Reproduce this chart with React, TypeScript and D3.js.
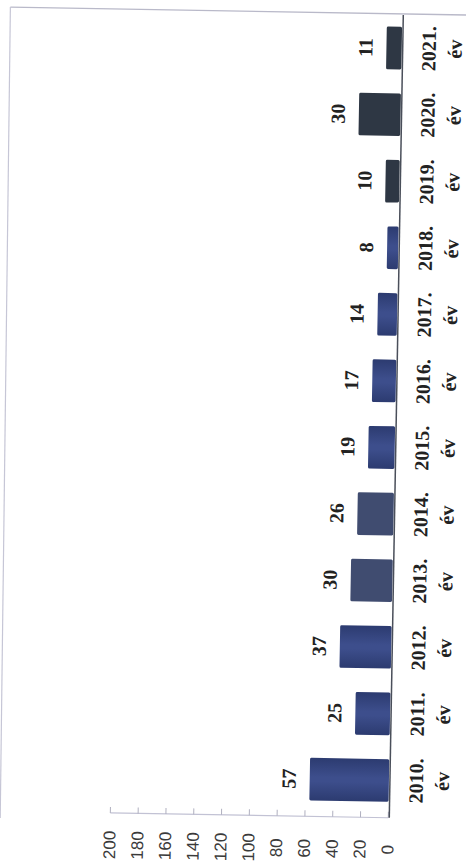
import React from "react";
import * as d3 from "d3";

const YEARS = ["2010.", "2011.", "2012.", "2013.", "2014.", "2015.", "2016.", "2017.", "2018.", "2019.", "2020.", "2021."];
const VALUES = [57, 25, 37, 30, 26, 19, 17, 14, 8, 10, 30, 11];
const UNIT = "év";
const VALUE_TICKS = [0, 20, 40, 60, 80, 100, 120, 140, 160, 180, 200];
const FLAT_GREY_YEARS = ["2013.", "2014."];
const DARK_YEARS = ["2019.", "2020.", "2021."];

const W = 466;
const H = 863;

export default function App() {
  const x = d3.scaleLinear().domain([0, 200]).range([395, 117]);
  const y = d3
    .scaleBand<string>()
    .domain([...YEARS].reverse())
    .range([4, 819])
    .paddingInner(0.36)
    .paddingOuter(0.3);

  const bw = y.bandwidth();
  const fillFor = (yr: string) =>
    DARK_YEARS.includes(yr) ? "#2e3744" : FLAT_GREY_YEARS.includes(yr) ? "#404c70" : "url(#blueGrad)";

  const serif = "'Liberation Serif', 'Times New Roman', serif";
  const sans = "'Liberation Sans', Arial, sans-serif";

  return (
    <svg
      width={W}
      height={H}
      viewBox={`0 0 ${W} ${H}`}
      style={{ position: "absolute", left: 0, top: 0, background: "#fff" }}
    >
      <defs>
        <linearGradient id="blueGrad" x1="0" y1="0" x2="0" y2="1">
          <stop offset="0" stopColor="#2c3b70" />
          <stop offset="0.45" stopColor="#3d4e8c" />
          <stop offset="0.55" stopColor="#3d4e8c" />
          <stop offset="1" stopColor="#2c3b70" />
        </linearGradient>
      </defs>
      <rect width={W} height={H} fill="#fff" />
      <g transform={`rotate(1, ${W / 2}, ${H / 2})`}>
        {/* outer frame */}
        <line x1={3} y1={11} x2={490} y2={11} stroke="#b9b9c9" strokeWidth={1.3} />
        <line x1={3} y1={11} x2={7} y2={822} stroke="#c6c6d6" strokeWidth={1.2} />

        {/* value axis */}
        <line x1={x(200)} y1={815} x2={x(0)} y2={815} stroke="#c2c2d4" strokeWidth={1.2} />
        {VALUE_TICKS.map((t) => (
          <line key={"tk" + t} x1={x(t)} x2={x(t)} y1={809} y2={815} stroke="#b0b0c0" strokeWidth={1} />
        ))}
        {VALUE_TICKS.map((t) => (
          <text
            key={"tl" + t}
            transform={`translate(${x(t)}, 847) rotate(-90)`}
            textAnchor="middle"
            dominantBaseline="central"
            fontFamily={sans}
            fontSize={17}
            fill="#3a3a3a"
          >
            {t}
          </text>
        ))}

        {/* bars */}
        {YEARS.map((yr, i) => (
          <rect
            key={"b" + yr}
            x={x(VALUES[i])}
            y={y(yr)!}
            width={x(0) - x(VALUES[i])}
            height={bw}
            rx={1.5}
            fill={fillFor(yr)}
          />
        ))}

        {/* category baseline */}
        <line x1={x(0) + 1} y1={12} x2={x(0) + 1} y2={815} stroke="#4a4f5a" strokeWidth={1.5} />

        {/* value labels */}
        {YEARS.map((yr, i) => (
          <text
            key={"v" + yr}
            transform={`translate(${x(VALUES[i]) - 14}, ${y(yr)! + bw / 2}) rotate(-90)`}
            textAnchor="middle"
            fontFamily={serif}
            fontWeight="bold"
            fontSize={20}
            fill="#222"
          >
            {VALUES[i]}
          </text>
        ))}

        {/* category labels */}
        {YEARS.map((yr) => (
          <g key={"c" + yr}>
            <text
              transform={`translate(429, ${y(yr)! + bw / 2}) rotate(-90)`}
              textAnchor="middle"
              fontFamily={serif}
              fontWeight="bold"
              fontSize={20}
              fill="#222"
            >
              {yr}
            </text>
            <text
              transform={`translate(455, ${y(yr)! + bw / 2}) rotate(-90)`}
              textAnchor="middle"
              fontFamily={serif}
              fontWeight="bold"
              fontSize={20}
              fill="#222"
            >
              {UNIT}
            </text>
          </g>
        ))}
      </g>
    </svg>
  );
}
